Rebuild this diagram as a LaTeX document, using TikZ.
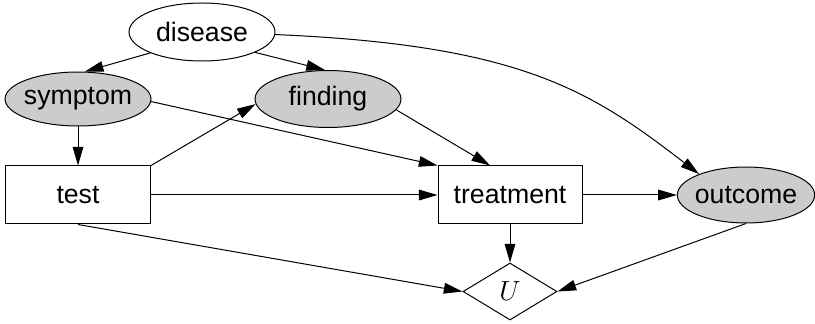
\documentclass[tikz,border=0pt]{standalone}
\usepackage{fontspec}
\setmainfont{Liberation Sans}
\usetikzlibrary{shapes.geometric,arrows.meta}
\begin{document}
\begin{tikzpicture}[x=0.75pt,y=-0.75pt,
  font=\fontsize{20pt}{24pt}\selectfont,
  every node/.style={draw=black,line width=0.75pt,inner sep=0pt},
  chance/.style={ellipse,inner xsep=-2pt,fill=white},
  observed/.style={chance,fill=gray!40},
  decision/.style={rectangle,fill=white},
  utility/.style={diamond,fill=white,minimum width=70.5pt,minimum height=42.75pt},
  link/.style={line width=0.75pt,-{Triangle[length=14pt,width=8pt]}}]
  \useasboundingbox (0,0) rectangle (815,324);

  % chance and observed variables
  \node[chance,minimum width=109.5pt,minimum height=43.5pt] (disease) at (202,32) {disease};
  \node[observed,minimum width=109.5pt,minimum height=40.5pt] (symptom) at (78,99) {symptom};
  \node[observed,minimum width=109.5pt,minimum height=42.75pt] (finding) at (328,99) {finding};
  \node[observed,minimum width=103pt,minimum height=42pt] (outcome) at (746,195) {outcome};

  % decisions
  \node[decision,minimum width=108.75pt,minimum height=43.5pt] (test) at (78,195) {test};
  \node[decision,minimum width=108pt,minimum height=43.5pt] (treatment) at (510,195) {treatment};

  % utility
  \node[utility] (U) at (510,291.5) {\fontsize{21pt}{24pt}\selectfont$U$};

  % influences
  \draw[link] (disease.202) -- (symptom.76);
  \draw[link] (disease.339) -- (finding.96);
  \draw[link] (disease.358) .. controls (520,45) and (590,90) .. (outcome.156);
  \draw[link] (symptom.south) -- (test.north);
  \draw[link] (symptom.358) -- (treatment.north west);
  \draw[link] (test.north east) -- (finding.184);
  \draw[link] (finding.351) -- (treatment.124.6);
  \draw[link] (test.east) -- (treatment.west);
  \draw[link] (treatment.east) -- (outcome.west);
  \draw[link] (test.south) -- (U.west);
  \draw[link] (treatment.south) -- (U.north);
  \draw[link] (outcome.south) -- (U.east);
\end{tikzpicture}
\end{document}
